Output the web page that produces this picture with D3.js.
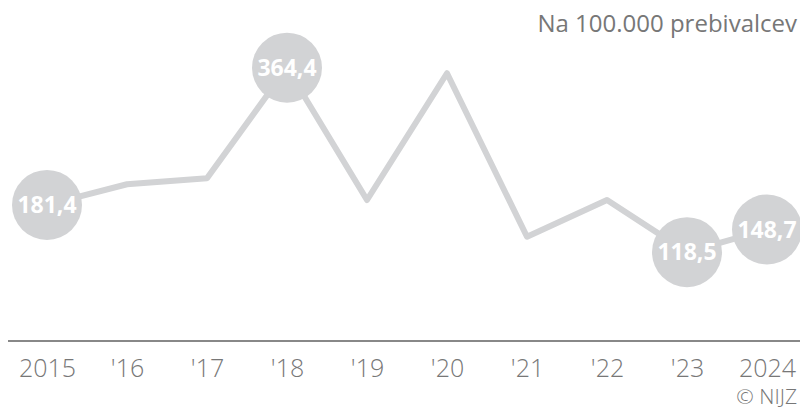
<!DOCTYPE html>
<html>
<head>
<meta charset="utf-8">
<script src="https://cdn.jsdelivr.net/npm/d3@7"></script>
<style>
  body { margin: 0; background: #fff; }
  svg { display: block; font-family: "Open Sans", sans-serif; }
</style>
</head>
<body>
<div id="chart"></div>
<script>
var years = ["2015", "2016", "2017", "2018", "2019", "2020", "2021", "2022", "2023", "2024"];
var tickLabels = ["2015", "'16", "'17", "'18", "'19", "'20", "'21", "'22", "'23", "2024"];
var values = [181.4, 209, 217, 364.4, 188, 357, 139, 188, 118.5, 148.7];
var labelled = ["2015", "2018", "2023", "2024"];

var width = 800, height = 409;

var svg = d3.select("#chart")
    .append("svg")
    .attr("width", width)
    .attr("height", height);

var x = d3.scalePoint()
    .domain(years)
    .range([47, 767]);

var y = d3.scaleLinear()
    .domain([0, 400])
    .range([341, 41]);

var data = years.map(function(d, i) { return {year: d, value: values[i]}; });

// unit note
svg.append("text")
    .attr("x", 797)
    .attr("y", 32)
    .attr("text-anchor", "end")
    .style("font-size", "24px")
    .style("font-weight", 400)
    .style("fill", "#777")
    .text("Na 100.000 prebivalcev");

// baseline
svg.append("line")
    .attr("x1", 8)
    .attr("x2", 800)
    .attr("y1", y(0))
    .attr("y2", y(0))
    .style("stroke", "#888")
    .style("stroke-width", 2);

// x axis labels
var xAxis = d3.axisBottom(x)
    .tickSize(0)
    .tickFormat(function(d, i) { return tickLabels[i]; });

var gx = svg.append("g")
    .attr("transform", "translate(0," + 355 + ")")
    .call(xAxis);
gx.select(".domain").remove();
gx.selectAll("text")
    .attr("dy", 0)
    .attr("y", 22)
    .style("font-family", "Open Sans, sans-serif")
    .style("font-size", "25px")
    .style("font-weight", 300)
    .style("font-stretch", "90%")
    .style("fill", "#777");

// line
var line = d3.line()
    .x(function(d) { return x(d.year); })
    .y(function(d) { return y(d.value); });

svg.append("path")
    .datum(data)
    .attr("d", line)
    .style("fill", "none")
    .style("stroke", "#d2d3d5")
    .style("stroke-width", 6)
    .style("stroke-linejoin", "round");

// value bubbles
var bubbles = svg.selectAll(".bubble")
    .data(data.filter(function(d) { return labelled.includes(d.year); }))
    .enter()
    .append("g")
    .attr("class", "bubble")
    .attr("transform", function(d) { return "translate(" + x(d.year) + "," + y(d.value) + ")"; });

bubbles.append("circle")
    .attr("r", 35)
    .style("fill", "#d2d3d5");

bubbles.append("text")
    .attr("text-anchor", "middle")
    .attr("dy", "0.36em")
    .style("font-size", "23px")
    .style("font-weight", "bold")
    .style("fill", "#fff")
    .text(function(d) { return d3.format(".1f")(d.value).replace(".", ","); });

// credit
svg.append("text")
    .attr("x", 797)
    .attr("y", 404)
    .attr("text-anchor", "end")
    .style("font-size", "21px")
    .style("font-weight", 300)
    .style("font-stretch", "90%")
    .style("fill", "#777")
    .text("© NIJZ");
</script>
</body>
</html>
